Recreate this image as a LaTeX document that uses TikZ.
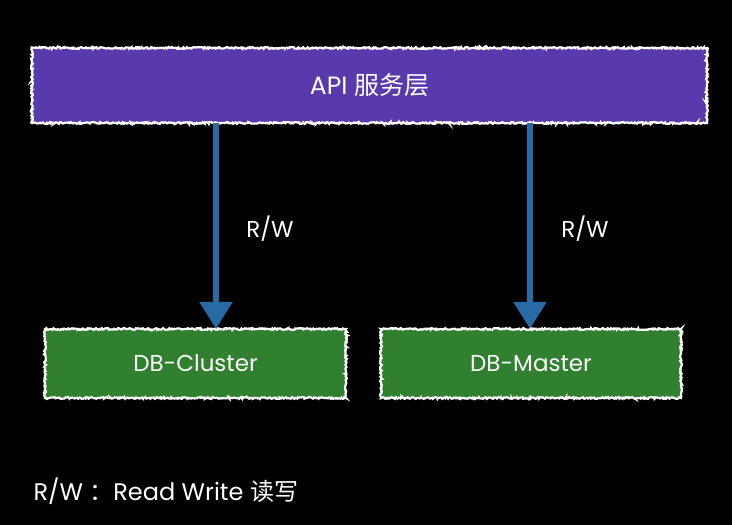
\documentclass[tikz,border=0pt]{standalone}
\usepackage{fontspec}
\setmainfont{Poppins}
\newfontfamily\cjk{Noto Sans CJK SC}
\usetikzlibrary{arrows.meta,decorations.pathmorphing}
\definecolor{apipurple}{RGB}{88,58,172}
\definecolor{dbgreen}{RGB}{48,128,48}
\definecolor{arrowblue}{RGB}{40,106,166}
\tikzset{
  roughbox/.style={inner sep=0pt, text=white,
    postaction={draw=white, line width=2.2pt, decorate,
      decoration={random steps, segment length=1.2pt, amplitude=0.9pt}}},
  flow/.style={draw=arrowblue, line width=6pt,
    -{Triangle[width=32pt,length=27pt,fill=arrowblue]}},
  lbl/.style={text=white, font=\fontsize{23}{26}\selectfont}
}
\begin{document}
\begin{tikzpicture}[x=1pt,y=-1pt]
\fill[black] (0,0) rectangle (732,525);
\useasboundingbox (0,0) rectangle (732,525);
\node[roughbox, fill=apipurple, minimum width=675pt, minimum height=75pt,
  font=\fontsize{25}{28}\selectfont] (api) at (369.5,85.5) {API {\cjk 服务层}};
\node[roughbox, fill=dbgreen, minimum width=301pt, minimum height=69pt,
  font=\fontsize{23}{26}\selectfont] (cluster) at (195.5,363.5) {DB-Cluster};
\node[roughbox, fill=dbgreen, minimum width=300pt, minimum height=69pt,
  font=\fontsize{23}{26}\selectfont] (master) at (531,363.5) {DB-Master};
\draw[flow] (api.south -| 216,0) -- (cluster.north -| 216,0);
\draw[flow] (api.south -| 530,0) -- (master.north -| 530,0);
\node[lbl] (rw1) at (270,229) {R/W};
\node[lbl] (rw2) at (585,229) {R/W};
\node[lbl, anchor=west, font=\fontsize{24}{27}\selectfont] (legend) at (30,491) {R/W {\cjk ：}Read Write {\cjk 读写}};
\end{tikzpicture}
\end{document}
